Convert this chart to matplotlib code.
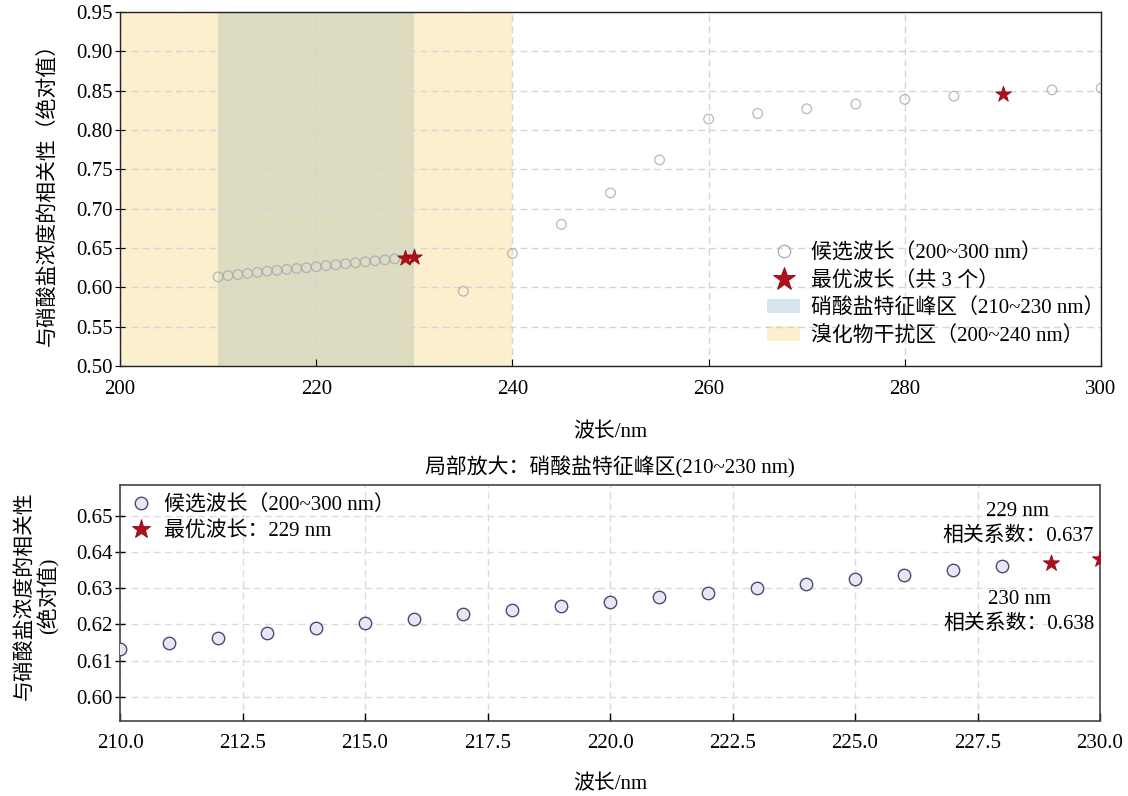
import numpy as np
import matplotlib
matplotlib.use("Agg")
import matplotlib.pyplot as plt
from matplotlib.lines import Line2D
from matplotlib.patches import Patch

plt.rcParams['font.family'] = ['Liberation Serif', 'Noto Sans CJK SC']
plt.rcParams['axes.unicode_minus'] = False

# ---- data ----
wl_fine = [210, 211, 212, 213, 214, 215, 216, 217, 218, 219, 220,
           221, 222, 223, 224, 225, 226, 227, 228, 229, 230]
corr_fine = [0.6133, 0.6149, 0.6163, 0.6176, 0.6191, 0.6205, 0.6216, 0.6229,
             0.6239, 0.6250, 0.6262, 0.6275, 0.6287, 0.6300, 0.6312, 0.6325,
             0.6337, 0.6349, 0.6361, 0.6371, 0.6380]
wl_coarse = [235, 240, 245, 250, 255, 260, 265, 270, 275, 280, 285, 290, 295, 300]
corr_coarse = [0.595, 0.643, 0.680, 0.720, 0.762, 0.814, 0.821, 0.827,
               0.833, 0.839, 0.843, 0.846, 0.851, 0.853]
best_wl = [229, 230, 290]
best_corr = [0.637, 0.638, 0.846]
zoom_best_wl = [229, 230]
zoom_best_corr = [0.637, 0.638]
nitrate_band = (210, 230)
bromide_band = (200, 240)

top_xticks = [200, 220, 240, 260, 280, 300]
top_yticks = [0.50, 0.55, 0.60, 0.65, 0.70, 0.75, 0.80, 0.85, 0.90, 0.95]
bot_xticks = [210.0, 212.5, 215.0, 217.5, 220.0, 222.5, 225.0, 227.5, 230.0]
bot_yticks = [0.60, 0.61, 0.62, 0.63, 0.64, 0.65]

wl_all = wl_fine + wl_coarse
corr_all = corr_fine + corr_coarse
cand_wl = [w for w in wl_all if w not in best_wl]
cand_corr = [c for w, c in zip(wl_all, corr_all) if w not in best_wl]
zoom_cand_wl = [w for w in wl_fine if w not in zoom_best_wl]
zoom_cand_corr = [c for w, c in zip(wl_fine, corr_fine) if w not in zoom_best_wl]

FS = 15
yellow = '#f2c94c'
blue = '#3a7ca8'
star_face = '#b0101c'
star_edge = '#8a0a12'

fig = plt.figure(figsize=(11.28, 7.96), dpi=100)

# ---------- top panel ----------
ax1 = fig.add_axes([0.1064, 0.5402, 0.8697, 0.4447])
ax1.axvspan(*nitrate_band, color=blue, alpha=0.2, lw=0, zorder=0)
ax1.axvspan(*bromide_band, color=yellow, alpha=0.28, lw=0, zorder=0.5)
ax1.grid(True, color='#d5d5d5', linestyle=(0, (5, 3)), lw=1, zorder=1)
ax1.set_axisbelow(True)
ax1.scatter(cand_wl, cand_corr, s=48, facecolors='none', edgecolors='#a4a4b8',
            linewidths=0.9, alpha=0.8, zorder=3)
ax1.scatter(best_wl, best_corr, s=140, marker='*', color=star_face,
            edgecolors=star_edge, linewidths=0.6, zorder=4)
ax1.set_xlim(200, 300)
ax1.set_ylim(0.50, 0.95)
ax1.set_xticks(top_xticks)
ax1.set_yticks(top_yticks)
ax1.set_yticklabels([f'{v:.2f}' for v in top_yticks])
ax1.tick_params(axis='x', labelsize=FS, direction='in', length=5, width=0.8, pad=10)
ax1.tick_params(axis='y', labelsize=FS, direction='inout', length=7, width=0.8, pad=2)
ax1.set_xlabel('波长/nm', fontsize=FS, labelpad=17)
ax1.set_ylabel('与硝酸盐浓度的相关性（绝对值）', fontsize=FS, labelpad=12)
for sp in ax1.spines.values():
    sp.set_color('#222222')
    sp.set_linewidth(1.0)

h1 = [Line2D([], [], ls='none', marker='o', ms=9, mfc='none', mec='#a8a8bc', mew=0.9),
      Line2D([], [], ls='none', marker='*', ms=17, mfc=star_face, mec=star_edge, mew=0.6),
      Patch(facecolor=blue, alpha=0.2, lw=0),
      Patch(facecolor=yellow, alpha=0.28, lw=0)]
l1 = ['候选波长（200~300 nm）', '最优波长（共 3 个）',
      '硝酸盐特征峰区（210~230 nm）', '溴化物干扰区（200~240 nm）']
ax1.legend(h1, l1, loc='lower right', frameon=False, fontsize=FS,
           handlelength=1.6, handletextpad=0.5, labelspacing=0.36,
           bbox_to_anchor=(1.016, 0.022), borderaxespad=0.2)

# ---------- bottom panel ----------
ax2 = fig.add_axes([0.1064, 0.0942, 0.8688, 0.2965])
ax2.grid(True, color='#dcdcdc', linestyle=(0, (5, 3)), lw=1)
ax2.set_axisbelow(True)
ax2.scatter(zoom_cand_wl, zoom_cand_corr, s=80, facecolors='#e8e8f4',
            edgecolors='#4a4a78', linewidths=1.0, zorder=3)
ax2.scatter(zoom_best_wl, zoom_best_corr, s=150, marker='*', color=star_face,
            edgecolors=star_edge, linewidths=0.6, zorder=4)
ax2.set_xlim(min(wl_fine), max(wl_fine))
ax2.set_ylim(min(corr_fine) - 0.02, max(corr_fine) + 0.0205)
ax2.set_xticks(bot_xticks)
ax2.set_xticklabels([f'{v:.1f}' for v in bot_xticks])
ax2.set_yticks(bot_yticks)
ax2.set_yticklabels([f'{v:.2f}' for v in bot_yticks])
ax2.tick_params(axis='x', labelsize=FS, direction='in', length=6, width=1, pad=9)
ax2.tick_params(axis='y', labelsize=FS, direction='inout', length=7, width=1, pad=2)
ax2.set_xlabel('波长/nm', fontsize=FS, labelpad=16)
ax2.set_ylabel('与硝酸盐浓度的相关性\n(绝对值)', fontsize=FS, labelpad=12,
               linespacing=1.15)
ax2.yaxis.label.set_y(0.53)
ax2.set_title('局部放大：硝酸盐特征峰区(210~230 nm)', fontsize=FS, pad=8)
for sp in ax2.spines.values():
    sp.set_color('#444444')
    sp.set_linewidth(1.2)

h2 = [Line2D([], [], ls='none', marker='o', ms=9, mfc='#e8e8f4', mec='#4a4a78', mew=1.0),
      Line2D([], [], ls='none', marker='*', ms=14, mfc=star_face, mec=star_edge, mew=0.6)]
l2 = ['候选波长（200~300 nm）', f'最优波长：{zoom_best_wl[0]} nm']
ax2.legend(h2, l2, loc='upper left', frameon=False, fontsize=FS,
           handlelength=1.0, handletextpad=0.6, labelspacing=0.3,
           borderaxespad=0.1)

offsets = [(-24, 28), (-58, -38)]
for w, c, off in zip(zoom_best_wl, zoom_best_corr, offsets):
    ax2.annotate(f'{w} nm\n相关系数：{c:.3f}', xy=(w, c), xytext=off,
                 textcoords='offset points', ha='center', va='center',
                 fontsize=FS, linespacing=1.35, zorder=5)

fig.savefig('out.png', dpi=100)
